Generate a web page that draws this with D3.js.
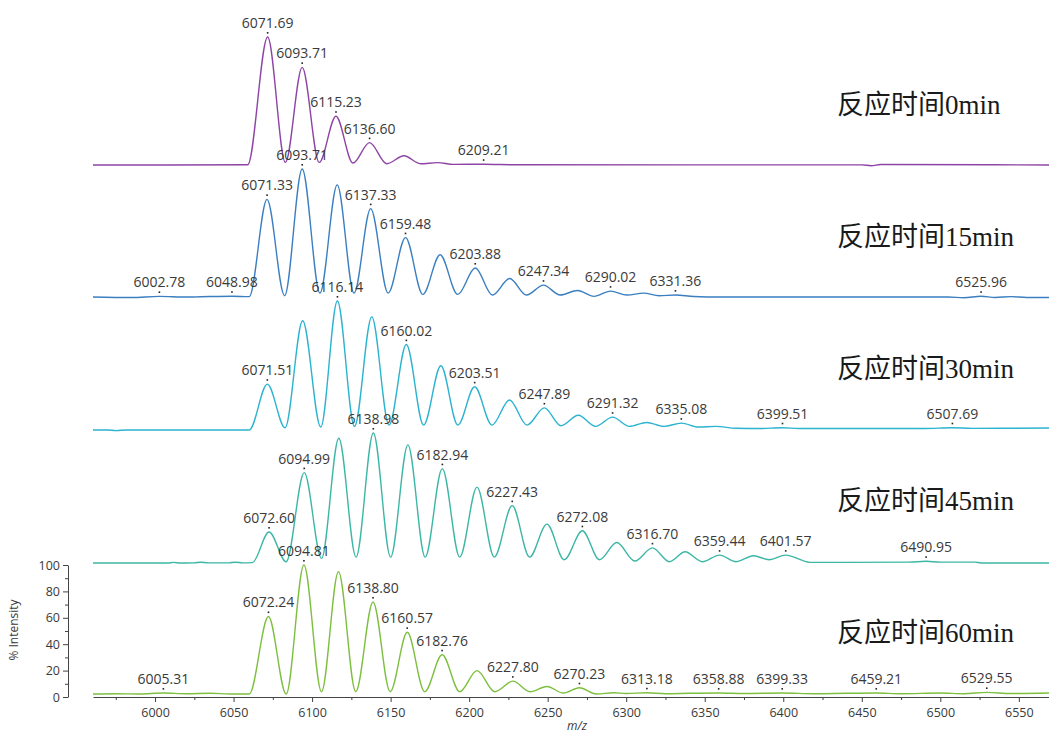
<!DOCTYPE html>
<html>
<head>
<meta charset="utf-8">
<script src="https://cdnjs.cloudflare.com/ajax/libs/d3/7.8.5/d3.min.js"></script>
<style>
  body { margin: 0; background: #fff; }
  svg { display: block; }
</style>
</head>
<body>
<script>
// Reaction times, one spectrum each (top to bottom)
const times = ["0min", "15min", "30min", "45min", "60min"];
const lineColors = ["#8e44a6", "#3b7fc1", "#2bb3cf", "#3cb7a6", "#7dbf3f"];

// Spectra: [m/z, % intensity] at peaks, valleys and baseline
const spec0 = [[5960.5,3],[6059,3.2],[6071.7,100],[6083,5],[6093.7,77],[6104.5,5],[6115.2,40],[6126,4.5],
  [6136.6,20],[6147.5,4],[6158.5,10],[6169,4],[6180,4.8],[6190,3.5],[6209.2,3.6],[6230,3.2],[6450,3.1],
  [6456,2.5],[6462,3.4],[6569.2,3]];
const spec15 = [[5960.5,3],[5985,2.6],[6002.8,3.5],[6020,3],[6035,3.4],[6049,3.6],[6060,3.3],[6071.3,77],
  [6082.5,4],[6093.7,100],[6105,6],[6116,88],[6126.7,6],[6137.3,70],[6148.4,6],[6159.5,48],[6170.5,5],
  [6181.5,35],[6192.7,5],[6203.9,25],[6214.8,4.5],[6225.8,17],[6236.5,4.5],[6247.3,12],[6258,4.5],
  [6269,8],[6279.5,3.5],[6290,7.5],[6300.5,4.5],[6311,6],[6321,4],[6331.4,4.5],[6343,3.4],[6360,3],
  [6505,3],[6515,2.5],[6526,3.6],[6535,2.7],[6545,3.3],[6555,2.7],[6569.2,2.7]];
const spec30 = [[5960.5,2.3],[5970,2.3],[5975,1.8],[5982,2.3],[6060,2.3],[6071.5,37],[6082.8,4],[6094,85],
  [6105.5,4.5],[6116.1,100],[6127,5],[6138,88],[6149,6],[6160,67],[6171,6],[6182,51],[6192.8,6],
  [6203.5,35],[6214.5,6],[6225.7,25],[6236.8,6],[6247.9,19],[6258.5,5.5],[6269.5,13.5],[6280.5,5],
  [6291.3,12],[6302,5],[6313,8],[6324,5],[6335.1,7.5],[6346,4.5],[6357,5],[6370,3.6],[6385,3.4],
  [6399.5,4],[6410,3.4],[6490,3.4],[6507.7,4],[6520,3.5],[6569.2,3.8]];
const spec45 = [[5960.5,1.5],[6008,1.5],[6012,2],[6016,1.5],[6025,1.6],[6029,2.1],[6034,1.6],[6047,1.6],
  [6051,2.1],[6056,1.6],[6062,1.8],[6072.6,25],[6083.5,2.5],[6095,70],[6106,5],[6117,96],[6128,6],
  [6139,100],[6150,6],[6161,91],[6172,6],[6182.9,73],[6194,6],[6205,59],[6216,6],[6227.4,45],
  [6238.5,6],[6249.5,31],[6260.5,4],[6272.1,26],[6283,4],[6294,17],[6305.5,3],[6316.7,13],[6327.5,2.5],
  [6337.5,10],[6348.5,2.5],[6359.4,7.5],[6370,2.5],[6381,7],[6391,4],[6401.6,7.5],[6417,2],[6440,2],
  [6480,2.2],[6491,2.8],[6500,2.2],[6522,2.2],[6526,1.5],[6569.2,1.5]];
const spec60 = [[5960.5,2.3],[5975,2.5],[5990,2.3],[6005.3,3],[6020,2.5],[6035,2.8],[6048,2.3],[6060,2.3],
  [6072.2,61],[6083.5,2.3],[6094.8,100],[6106,4],[6116.8,95],[6127.8,4],[6138.8,72],[6149.7,4],
  [6160.6,49],[6171.7,4],[6182.8,32],[6194,4],[6205,20],[6216.3,4],[6227.8,12],[6238.8,4],[6249.5,8],
  [6260,3],[6270.2,7],[6281,2.3],[6292,3.2],[6300,2.6],[6313.2,3.2],[6325,2.5],[6340,2.8],[6358.9,3],
  [6375,2.6],[6399.3,3],[6420,2.5],[6440,2.8],[6459.2,3],[6475,2.5],[6500,3],[6515,2.5],[6529.6,3.5],
  [6545,2.6],[6569.2,3]];

// Peak labels: [m/z, % intensity at the apex]
const peaks0 = [[6071.69,100],[6093.71,77],[6115.23,40],[6136.60,20],[6209.21,3.6]];
const peaks15 = [[6002.78,3.5],[6048.98,3.6],[6071.33,77],[6093.71,100],[6137.33,70],[6159.48,48],
  [6203.88,25],[6247.34,12],[6290.02,7.5],[6331.36,4.5],[6525.96,3.6]];
const peaks30 = [[6071.51,37],[6116.14,100],[6160.02,67],[6203.51,35],[6247.89,19],[6291.32,12],
  [6335.08,7.5],[6399.51,4],[6507.69,4]];
const peaks45 = [[6072.60,25],[6094.99,70],[6138.98,100],[6182.94,73],[6227.43,45],[6272.08,26],
  [6316.70,13],[6359.44,7.5],[6401.57,7.5],[6490.95,2.8]];
const peaks60 = [[6005.31,3],[6072.24,61],[6094.81,100],[6138.80,72],[6160.57,49],[6182.76,32],
  [6227.80,12],[6270.23,7],[6313.18,3.2],[6358.88,3],[6399.33,3],[6459.21,3],[6529.55,3.5]];

// Axis ticks
const xTicks = [6000, 6050, 6100, 6150, 6200, 6250, 6300, 6350, 6400, 6450, 6500, 6550];
const xMinor = [5975, 6025, 6075, 6125, 6175, 6225, 6275, 6325, 6375, 6425, 6475, 6525];
const yTicks = [0, 20, 40, 60, 80, 100];
const yMinor = [10, 30, 50, 70, 90];

const spectra = [spec0, spec15, spec30, spec45, spec60];
const peakSets = [peaks0, peaks15, peaks30, peaks45, peaks60];

const width = 1049, height = 733;

const svg = d3.select("body").append("svg")
    .attr("width", width)
    .attr("height", height);

const x = d3.scaleLinear().domain([5960.5, 6569.2]).range([93, 1049]);
// bottom spectrum sits on 0..100, every spectrum above is lifted by 100 %
const y = d3.scaleLinear().domain([0, 100]).range([697, 565]);
const lift = i => (times.length - 1 - i) * 100;

const line = d3.line()
    .x(d => x(d[0]))
    .y(d => y(d[1]))
    .curve(d3.curveMonotoneX);

// Spectra
spectra.forEach((s, i) => {
    svg.append("path")
        .datum(s.map(d => [d[0], d[1] + lift(i)]))
        .attr("d", line)
        .attr("fill", "none")
        .attr("stroke", lineColors[i])
        .attr("stroke-width", 1.4)
        .attr("stroke-linejoin", "round");
});

// Peak labels with the little apex mark
peakSets.forEach((p, i) => {
    const g = svg.append("g");
    g.selectAll("rect")
        .data(p)
        .join("rect")
        .attr("x", d => x(d[0]) - 0.8)
        .attr("y", d => y(d[1] + lift(i)) - 5)
        .attr("width", 1.6)
        .attr("height", 1.6)
        .attr("fill", "#222");
    g.selectAll("text")
        .data(p)
        .join("text")
        .attr("x", d => x(d[0]))
        .attr("y", d => y(d[1] + lift(i)) - 9)
        .attr("text-anchor", "middle")
        .style("font-family", "'Segoe UI', 'Open Sans', sans-serif")
        .style("font-size", "14px")
        .style("fill", "#3a3a3a")
        .text(d => d[0].toFixed(2));
});

// Reaction time captions
svg.append("g").selectAll("text")
    .data(times)
    .join("text")
    .attr("x", 837)
    .attr("y", (d, i) => y(42 + lift(i)))
    .style("font-family", "'Liberation Serif', 'Noto Sans CJK SC', serif")
    .style("font-size", "27px")
    .style("fill", "#1a1a1a")
    .text(d => "反应时间" + d);

// X axis
const xAxis = svg.append("g")
    .attr("transform", `translate(0,${y(0)})`)
    .call(d3.axisBottom(x).tickValues(xTicks).tickSize(5).tickSizeOuter(0).tickFormat(d3.format("d")));
svg.append("g")
    .attr("transform", `translate(0,${y(0)})`)
    .call(d3.axisBottom(x).tickValues(xMinor).tickSize(3).tickSizeOuter(0).tickFormat(""))
    .select(".domain").remove();

// Y axis
const yAxis = svg.append("g")
    .attr("transform", "translate(68,0)")
    .call(d3.axisLeft(y).tickValues(yTicks).tickSize(5).tickSizeOuter(0));
svg.append("g")
    .attr("transform", "translate(68,0)")
    .call(d3.axisLeft(y).tickValues(yMinor).tickSize(3).tickSizeOuter(0).tickFormat(""))
    .select(".domain").remove();

svg.selectAll(".domain, .tick line").attr("stroke", "#444");
svg.selectAll(".tick text")
    .style("font-family", "'Segoe UI', 'Open Sans', sans-serif")
    .style("font-size", "12.5px")
    .style("fill", "#3a3a3a");
xAxis.selectAll(".tick text").attr("dy", "0.95em");

svg.append("text")
    .attr("transform", "translate(18,630) rotate(-90)")
    .attr("text-anchor", "middle")
    .style("font-family", "'Segoe UI', 'Open Sans', sans-serif")
    .style("font-size", "12px")
    .style("fill", "#3a3a3a")
    .text("% Intensity");

svg.append("text")
    .attr("x", 577)
    .attr("y", 730)
    .attr("text-anchor", "middle")
    .style("font-family", "'Segoe UI', 'Open Sans', sans-serif")
    .style("font-size", "12px")
    .style("font-style", "italic")
    .style("fill", "#3a3a3a")
    .text("m/z");
</script>
</body>
</html>
